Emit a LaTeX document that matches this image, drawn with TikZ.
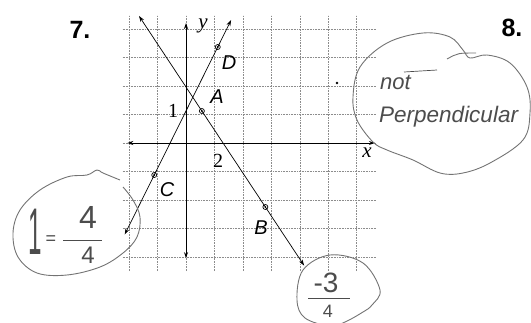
\documentclass[tikz,border=0pt]{standalone}
\usepackage{fontspec}
\setmainfont{Liberation Serif}
\setsansfont{Liberation Sans}
\usetikzlibrary{arrows.meta}
\tikzset{
  gridline/.style={densely dotted, line width=0.6pt, black!45},
  axisline/.style={line width=1pt, {Stealth[length=6pt,width=4pt]}-{Stealth[length=6pt,width=4pt]}},
  graphline/.style={line width=0.7pt, {Stealth[length=6pt,width=4pt]}-{Stealth[length=6pt,width=4pt]}},
  ptmark/.style={circle, draw, line width=0.7pt, inner sep=0pt, minimum size=5pt},
  ptlabel/.style={font=\sffamily\itshape\fontsize{20}{20}\selectfont},
  axlabel/.style={font=\itshape\fontsize{21}{21}\selectfont},
  numlabel/.style={font=\fontsize{20}{20}\selectfont},
  problabel/.style={font=\sffamily\bfseries\fontsize{25}{25}\selectfont},
  hand/.style={text=black!70, font=\sffamily\itshape\fontsize{22}{22}\selectfont, inner sep=0pt},
  handcircle/.style={black!55, line width=0.9pt},
}
\begin{document}
\begin{tikzpicture}[x=1pt, y=-1pt]
\useasboundingbox (0,0) rectangle (531,322);
\clip (0,0) rectangle (531,322);
% problem numbers
\node[problabel] (n7) at (80,30) {7.};
\node[problabel] (n8) at (512,28) {8.};
% graph
\begin{scope}[shift={(186,143)}, x=31.75pt, y=32pt]
  \draw[gridline] (-2,-4) grid (6,4);
  \coordinate (xl) at (-1.85,0);
  \coordinate (xr) at (5.95,0);
  \coordinate (yt) at (0,3.75);
  \coordinate (yb) at (0,-3.6);
  \draw[axisline] (xl) -- (xr);
  \draw[axisline, line width=0.8pt] (yt) -- (yb);
  \node[ptmark] (D) at (1,3) {};
  \node[ptmark] (A) at (0.5,1) {};
  \node[ptmark] (C) at (-1,-1) {};
  \node[ptmark] (B) at (2.5,-2) {};
  \coordinate (CDlow) at (-1.93,-2.86);
  \coordinate (CDhigh) at (1.42,3.84);
  \coordinate (ABhigh) at (-1.48,3.97);
  \coordinate (ABlow) at (3.72,-3.83);
  \draw[graphline] (CDlow) -- (C.center) -- (D.center) -- (CDhigh);
  \draw[graphline] (ABhigh) -- (A.center) -- (B.center) -- (ABlow);
  \foreach \p in {A,B,C,D} \fill (\p.center) circle (1.1pt);
\end{scope}
% labels
\node[ptlabel] (lD) at (229,63) {D};
\node[ptlabel] (lA) at (217,97) {A};
\node[ptlabel] (lC) at (167,190) {C};
\node[ptlabel] (lB) at (261,228) {B};
\node[axlabel] (ly) at (203,26) {y};
\node[axlabel] (lx) at (367,153) {x};
\node[numlabel] (l1) at (173,111) {1};
\node[numlabel] (l2) at (218,161) {2};
\fill (337,83) circle (1.3pt);
% right handwritten note
\draw[handcircle] plot[smooth cycle, tension=0.6] coordinates {
  (360,67) (387,43) (423,33) (450,37) (463,50) (470,58) (487,55) (510,63) (527,87)
  (530,113) (523,140) (490,163) (463,173) (440,173) (413,160) (387,150) (373,142) (357,120) (353,97)};
\draw[handcircle] (447,59) .. controls (458,53) .. (476,53);
\node[hand, anchor=west] (tnot) at (380,82) {not};
\coordinate (crossL) at (404,72);
\coordinate (crossR) at (437,70);
\draw[black!70, line width=0.7pt] (crossL) -- (crossR);
\node[hand, anchor=west, font=\sffamily\itshape\fontsize{22.5}{22.5}\selectfont] (tperp) at (379,117) {Perpendicular};
% left handwritten note
\draw[handcircle] plot[smooth, tension=0.6] coordinates {
  (120,180) (103,173) (97,170) (87,175) (67,177) (40,190) (20,210) (13,233) (18,257)
  (37,273) (67,275) (100,267) (123,253) (137,237) (140,217) (133,200) (123,187)};
\node[hand, font=\sffamily\fontsize{44}{44}\selectfont] (tone) at (35,232) {\scalebox{0.55}[1.5]{1}};
\node[hand, font=\sffamily\fontsize{18}{18}\selectfont] (teq) at (51,240) {=};
\node[hand, font=\sffamily\fontsize{32}{32}\selectfont] (tfour1) at (88,217) {4};
\coordinate (barL) at (63,240);
\coordinate (barR) at (102,240);
\draw[black!70, line width=0.8pt] (barL) -- (barR);
\node[hand, font=\sffamily\fontsize{24}{24}\selectfont] (tfour2) at (88,255) {4};
% bottom handwritten note
\draw[handcircle] plot[smooth cycle, tension=0.6] coordinates {
  (303,270) (330,255) (363,263) (380,290) (372,305) (363,312) (345,322) (330,326) (305,318) (297,300)};
\node[hand, font=\sffamily\fontsize{28}{28}\selectfont] (tmin3) at (326,283) {-3};
\coordinate (bar2L) at (308,298);
\coordinate (bar2R) at (350,298);
\draw[black!70, line width=0.8pt] (bar2L) -- (bar2R);
\node[hand, font=\sffamily\fontsize{18}{18}\selectfont] (tfour3) at (328,311) {4};
\end{tikzpicture}
\end{document}
